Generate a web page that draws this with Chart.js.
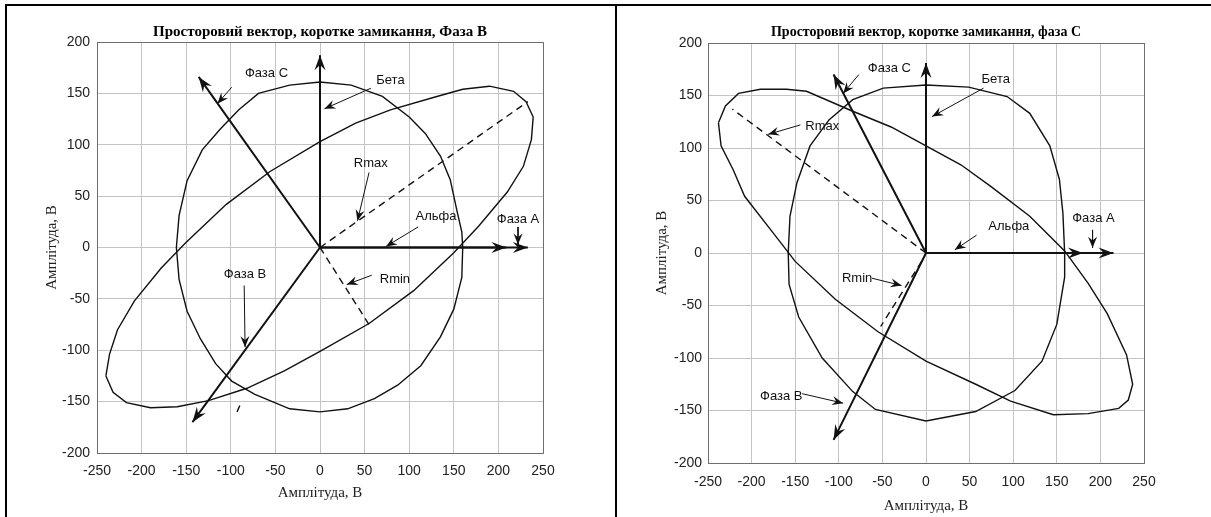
<!DOCTYPE html>
<html>
<head>
<meta charset="utf-8">
<script src="https://cdn.jsdelivr.net/npm/chart.js@4.4.1/dist/chart.umd.min.js"></script>
<style>
  body { margin: 0; background: #fff; }
  .frame { position: absolute; background: #000; }
  canvas { position: absolute; }
</style>
</head>
<body>
<div class="frame" style="left:5px;top:4px;width:1206px;height:2px"></div>
<div class="frame" style="left:5px;top:4px;width:2px;height:513px"></div>
<div class="frame" style="left:615px;top:4px;width:2px;height:513px"></div>
<canvas id="chartB" width="607" height="510" style="left:8px;top:7px"></canvas>
<canvas id="chartC" width="592" height="510" style="left:619px;top:7px"></canvas>
<script>
// axis ranges, same on both panels
const xRange = [-250, 250];
const yRange = [-200, 200];
const tickStep = 50;

// --- panel 1: short circuit, phase B ---
const circleB = [[160,0],[159,15],[154,34],[146,66],[135,89],[118,111],[100,127],[70,147],[35,158],[0,161],[-34,158],[-69,150],[-91,134],[-112,115],[-132,95],[-149,65],[-158,31],[-161,0],[-158,-31],[-149,-62],[-134,-89],[-117,-113],[-99,-130],[-73,-143],[-34,-157],[0,-160],[31,-157],[61,-147],[87,-134],[113,-115],[135,-87],[150,-60],[159,-29],[160,0]];
const ellipseB = [[-240,-125],[-236,-104],[-227,-80],[-208,-52],[-178,-20],[-150,5],[-105,42],[-56,74],[0,103],[40,121],[79,134],[131,147],[160,154],[190,157],[217,152],[231,142],[239,127],[237,105],[228,79],[210,54],[178,21],[150,-5],[105,-42],[55,-74],[0,-101],[-40,-120],[-82,-137],[-125,-149],[-160,-155],[-190,-156],[-217,-151],[-232,-141],[-240,-125]];
// phase A, alpha, beta, phase C, phase B
const vectorsB = [[233,0],[209,0],[0,187],[-136,166],[-143,-170]];
const dashedB = [[[0,0],[233,142]], [[0,0],[55,-75]], [[-93,-160],[-89,-152]]];
const labelsB = [['Фаза С',-60,169],['Бета',79,163],['Rmax',57,82],['Альфа',130,30],['Фаза А',222,27],['Фаза В',-84,-26],['Rmin',84,-31]];
const pointersB = [[[-99,156],[-115,140]],[[57,155],[5,135]],[[55,73],[42,26]],[[110,20],[74,1]],[[222,20],[222,3]],[[-85,-37],[-84,-97]],[[58,-27],[30,-36]]];

// --- panel 2: short circuit, phase C ---
const circleC = [[159,0],[157,38],[153,70],[142,102],[119,133],[93,149],[49,158],[0,160],[-49,157],[-84,146],[-111,127],[-133,102],[-148,67],[-156,35],[-158,0],[-157,-30],[-146,-61],[-119,-100],[-84,-132],[-58,-149],[0,-160],[57,-151],[102,-131],[133,-103],[150,-68],[159,-23],[159,0]];
const ellipseC = [[-238,124],[-230,140],[-215,152],[-190,156],[-160,156],[-137,154],[-84,135],[-40,120],[0,102],[40,84],[75,63],[119,35],[159,2],[186,-29],[208,-58],[230,-97],[237,-125],[232,-140],[221,-148],[186,-153],[146,-154],[97,-141],[57,-125],[0,-103],[-55,-75],[-104,-44],[-150,-8],[-178,22],[-208,54],[-221,79],[-235,102],[-238,124]];
const vectorsC = [[215,0],[180,0],[0,181],[-106,170],[-106,-178]];
const dashedC = [[[0,0],[-222,137]], [[-5,-8],[-52,-70]]];
const labelsC = [['Фаза С',-42,176],['Бета',80,165],['Rmax',-119,121],['Альфа',95,25],['Фаза А',192,33],['Rmin',-79,-24],['Фаза В',-166,-137]];
const pointersC = [[[-77,170],[-95,152]],[[66,157],[7,130]],[[-144,122],[-181,113]],[[58,17],[33,3]],[[191,22],[191,5]],[[-62,-24],[-28,-31]],[[-142,-134],[-95,-143]]];

const pts = arr => arr.map(([x, y]) => ({x, y}));

// filled heads on the end of datasets marked with "arrow"
const arrowHeads = {
  id: 'arrowHeads',
  afterDatasetsDraw(chart) {
    const ctx = chart.ctx;
    chart.data.datasets.forEach((ds, i) => {
      if (!ds.arrow) return;
      const els = chart.getDatasetMeta(i).data;
      const a = els[els.length - 2], b = els[els.length - 1];
      const ang = Math.atan2(b.y - a.y, b.x - a.x);
      const len = ds.arrow === 'big' ? 15 : 11;
      const half = ds.arrow === 'big' ? 5.5 : 4.5;
      ctx.save();
      ctx.translate(b.x, b.y);
      ctx.rotate(ang);
      ctx.beginPath();
      ctx.moveTo(0, 0);
      ctx.lineTo(-len, -half);
      ctx.lineTo(-len * 0.65, 0);
      ctx.lineTo(-len, half);
      ctx.closePath();
      ctx.fillStyle = '#111';
      ctx.fill();
      ctx.restore();
    });
  }
};

// text notes placed in data coordinates
const notes = {
  id: 'notes',
  afterDatasetsDraw(chart, args, opts) {
    const {ctx, scales: {x, y}} = chart;
    ctx.save();
    ctx.font = '13px "Liberation Sans", Arial, sans-serif';
    ctx.fillStyle = '#111';
    ctx.textAlign = 'center';
    ctx.textBaseline = 'middle';
    opts.items.forEach(([t, vx, vy]) => ctx.fillText(t, x.getPixelForValue(vx), y.getPixelForValue(vy)));
    ctx.restore();
  }
};

// box around the plot area
const plotBox = {
  id: 'plotBox',
  beforeDatasetsDraw(chart) {
    const {ctx, chartArea: a} = chart;
    ctx.save();
    ctx.strokeStyle = '#6e6e6e';
    ctx.lineWidth = 1;
    ctx.strokeRect(Math.round(a.left) + 0.5, Math.round(a.top) + 0.5, Math.round(a.width), Math.round(a.height));
    ctx.restore();
  }
};

function buildChart(id, o) {
  const line = (data, extra) => Object.assign({
    data: pts(data), showLine: true, borderColor: '#111', borderWidth: 1.4,
    pointRadius: 0, fill: false, tension: 0
  }, extra);
  const datasets = [
    line(o.circle),
    line(o.ellipse),
    ...o.dashed.map(d => line(d, {borderDash: [7, 5]})),
    ...o.vectors.map(v => line([[0, 0], v], {borderWidth: 2, arrow: 'big'})),
    ...o.pointers.map(p => line(p, {borderWidth: 1, arrow: 'small'}))
  ];
  const tickFont = {family: '"Liberation Sans", Arial, sans-serif', size: 14};
  const axisFont = {family: '"Liberation Serif", "Times New Roman", serif', size: 15};
  return new Chart(document.getElementById(id), {
    type: 'scatter',
    data: {datasets},
    options: {
      responsive: false,
      animation: false,
      layout: {padding: {left: 0, top: 0, right: o.padRight, bottom: o.padBottom}},
      plugins: {
        legend: {display: false},
        tooltip: {enabled: false},
        title: {
          display: true, text: o.title, fullSize: false, color: '#000',
          font: {family: '"Liberation Serif", "Times New Roman", serif', size: o.titleSize, weight: 'bold'},
          padding: {top: o.titleTop, bottom: o.titleGap}
        },
        notes: {items: o.labels}
      },
      scales: {
        x: {
          type: 'linear', min: xRange[0], max: xRange[1],
          ticks: {stepSize: tickStep, padding: o.xTickPad, color: '#222', font: tickFont},
          grid: {color: '#c4c4c4', drawTicks: false},
          border: {display: false},
          title: {display: true, text: 'Амплітуда, В', color: '#222', font: axisFont, padding: 0},
          afterFit: s => { s.height = o.xHeight; }
        },
        y: {
          type: 'linear', min: yRange[0], max: yRange[1],
          ticks: {stepSize: tickStep, padding: o.yTickPad, color: '#222', font: tickFont},
          grid: {color: '#c4c4c4', drawTicks: false},
          border: {display: false},
          title: {display: true, text: 'Амплітуда, В', color: '#222', font: axisFont, padding: {top: o.yTitlePad, bottom: 0}},
          afterFit: s => { s.width = 89; }
        }
      }
    },
    plugins: [plotBox, arrowHeads, notes]
  });
}

buildChart('chartB', {
  title: 'Просторовий вектор, коротке замикання, Фаза В',
  circle: circleB, ellipse: ellipseB, vectors: vectorsB, dashed: dashedB,
  labels: labelsB, pointers: pointersB,
  padRight: 72, padBottom: 15, xHeight: 49,
  titleSize: 15, titleTop: 16, titleGap: 1,
  xTickPad: 10, yTickPad: 7, yTitlePad: 35
});

buildChart('chartC', {
  title: 'Просторовий вектор, коротке замикання, фаза С',
  circle: circleC, ellipse: ellipseC, vectors: vectorsC, dashed: dashedC,
  labels: labelsC, pointers: pointersC,
  padRight: 67, padBottom: 2, xHeight: 52,
  titleSize: 14, titleTop: 16.6, titleGap: 2.6,
  xTickPad: 11, yTickPad: 6, yTitlePad: 34
});
</script>
</body>
</html>
